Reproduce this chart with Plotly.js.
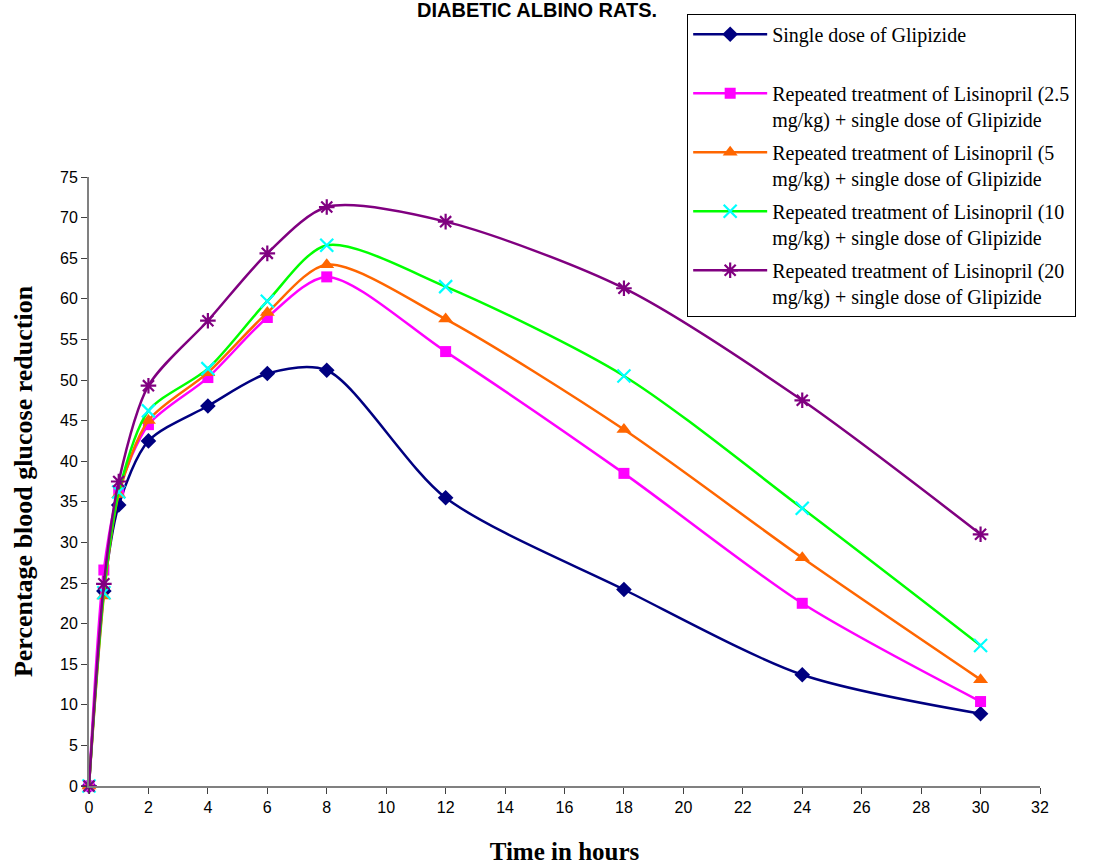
<!DOCTYPE html>
<html>
<head>
<meta charset="utf-8">
<script src="https://cdn.plot.ly/plotly-3.0.1.min.js"></script>
<style>html,body{margin:0;padding:0;background:#fff;}#chart{width:1096px;height:865px;}</style>
</head>
<body>
<div id="chart"></div>
<script>
var hours = [0, 0.5, 1, 2, 4, 6, 8, 12, 18, 24, 30];
var glipizide = [0, 24.0, 34.6, 42.5, 46.8, 50.8, 51.2, 35.5, 24.2, 13.7, 8.9];
var lis2_5 = [0, 26.6, 36.3, 44.5, 50.3, 57.7, 62.7, 53.5, 38.5, 22.5, 10.4];
var lis5 = [0, 23.4, 35.9, 45.0, 50.9, 58.3, 64.2, 57.5, 43.9, 28.1, 13.1];
var lis10 = [0, 23.8, 36.2, 46.2, 51.4, 59.7, 66.6, 61.5, 50.5, 34.2, 17.3];
var lis20 = [0, 24.9, 37.5, 49.3, 57.3, 65.6, 71.3, 69.5, 61.3, 47.5, 31.0];

var seriesNames = [
  'Single dose of Glipizide<br>\u00a0',
  'Repeated treatment of Lisinopril (2.5<br>mg/kg) + single dose of Glipizide',
  'Repeated treatment of Lisinopril (5<br>mg/kg) + single dose of Glipizide',
  'Repeated treatment of Lisinopril (10<br>mg/kg) + single dose of Glipizide',
  'Repeated treatment of Lisinopril (20<br>mg/kg) + single dose of Glipizide'
];
var seriesData = [glipizide, lis2_5, lis5, lis10, lis20];
var lineColors = ['#000080', '#FF00FF', '#FF6600', '#00FF00', '#800080'];
var markerColors = ['#000080', '#FF00FF', '#FF6600', '#00FFFF', '#800080'];
var symbols = ['diamond', 'square', 'triangle-up', 'x-thin-open', 'asterisk-open'];
var sizes = [12, 11, 13, 13, 13];

var serif = '"Liberation Serif", "Times New Roman", serif';
var sans = 'Arial, "Liberation Sans", sans-serif';

var traces = seriesData.map(function (vals, i) {
  var open = symbols[i].indexOf('open') >= 0;
  return {
    x: hours, y: vals, name: seriesNames[i], type: 'scatter', mode: 'lines+markers',
    legendgroup: 'g' + i,
    cliponaxis: false,
    line: {color: lineColors[i], width: 2.5, shape: 'spline', smoothing: 0.8},
    marker: {symbol: symbols[i], size: sizes[i], color: markerColors[i],
             line: {color: markerColors[i], width: open ? 2.2 : 0}}
  };
});

var layout = {
  width: 1096, height: 865,
  paper_bgcolor: '#ffffff', plot_bgcolor: '#ffffff',
  margin: {l: 89, r: 56, t: 177, b: 79},
  font: {family: sans, color: '#000'},
  title: {text: '<b>DIABETIC ALBINO RATS.</b>', font: {family: sans, size: 20, color: '#000'},
          x: 0.49, xanchor: 'center', y: 0.9965, yanchor: 'top'},
  xaxis: {range: [0, 32], dtick: 2, tick0: 0, showgrid: false, zeroline: false,
          showline: true, linecolor: '#808080', linewidth: 2,
          ticks: 'outside', ticklen: 6, tickcolor: '#404040', tickwidth: 1,
          tickfont: {size: 16, family: sans},
          title: {text: '<b>Time in hours</b>', font: {family: serif, size: 25}, standoff: 27}},
  yaxis: {range: [0, 75], dtick: 5, tick0: 0, showgrid: false, zeroline: false,
          showline: true, linecolor: '#808080', linewidth: 2,
          ticks: 'outside', ticklen: 6, tickcolor: '#404040', tickwidth: 1,
          tickfont: {size: 16, family: sans},
          title: {text: '<b>Percentage blood glucose reduction</b>', font: {family: serif, size: 26}, standoff: 20}},
  showlegend: true,
  legend: {x: 0.629, xanchor: 'left', y: 1.268, yanchor: 'top',
           bordercolor: '#000', borderwidth: 1, bgcolor: '#fff',
           font: {family: serif, size: 20, color: '#000'},
           valign: 'top', tracegroupgap: 4, itemwidth: 74}
};

Plotly.newPlot('chart', traces, layout, {displayModeBar: false, staticPlot: true});
</script>
</body>
</html>
